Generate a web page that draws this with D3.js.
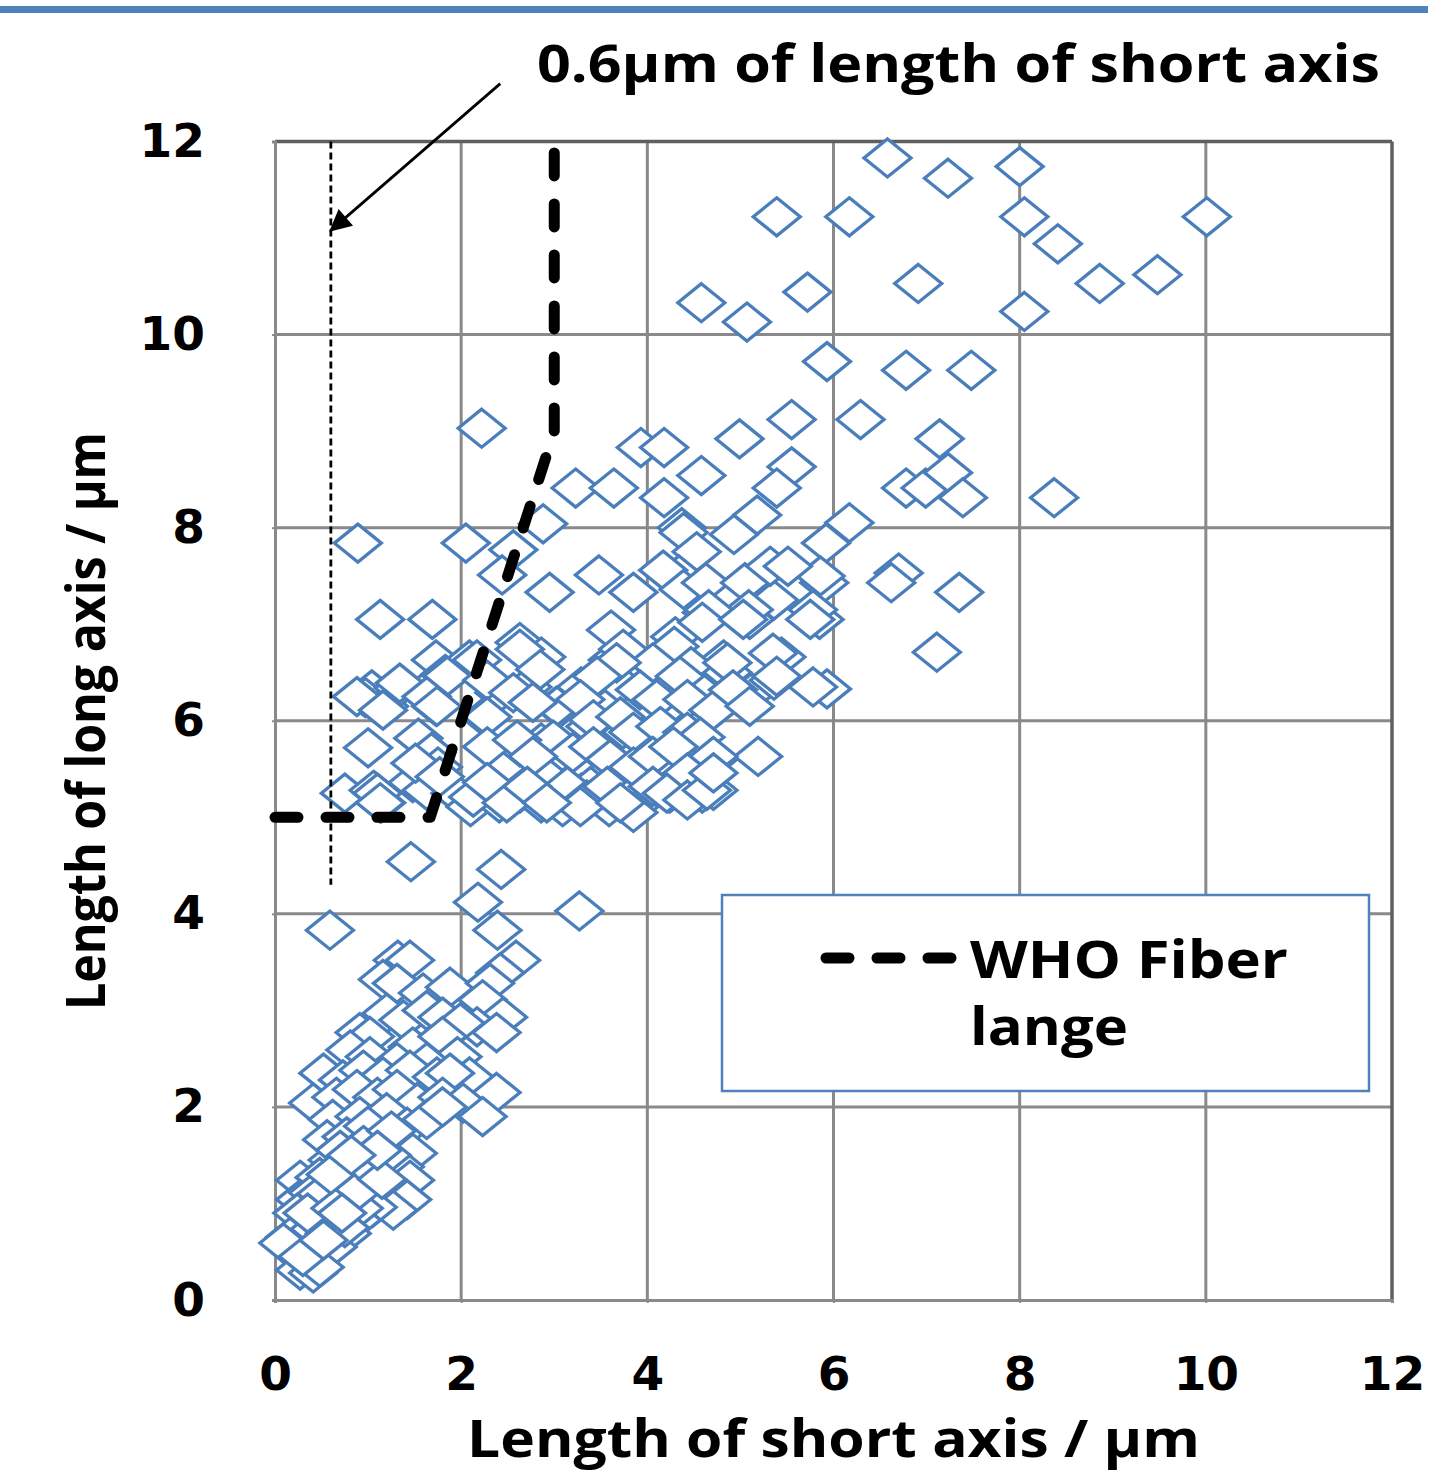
<!DOCTYPE html>
<html><head><meta charset="utf-8">
<script src="https://cdn.jsdelivr.net/npm/d3@7"></script>
<style>body{margin:0;background:#fff}</style>
</head><body>
<svg id="c" width="1434" height="1477"></svg>
<script>
const xTicks=[0,2,4,6,8,10,12];
const yTicks=[0,2,4,6,8,10,12];
const annotation="0.6µm of length of short axis";
const xTitle="Length of short axis / µm";
const yTitle="Length of long axis / µm";
const legendLabel=["WHO Fiber","lange"];
const whoLine=[[0,5],[1.667,5],[3,9],[3,12]];
const refLine=[[0.6,12],[0.6,4.3]];
const arrowLine=[[2.42,12.6],[0.6,11.08]];
const fiberPoints=[
[6.58,11.83],[7.23,11.62],[8.0,11.74],[6.17,11.22],[8.05,11.22],[8.41,10.94],[8.86,10.53],[9.48,10.62],[10.01,11.22],[6.91,10.53],[8.05,10.24],[5.93,9.72],[6.78,9.63],[7.48,9.63],[6.29,9.12],[7.14,8.92],[6.78,8.41],[6.99,8.41],[7.23,8.57],[7.39,8.31],[8.37,8.31],[6.17,8.05],
[5.92,7.84],[6.70,7.53],[6.62,7.43],[7.35,7.33],[7.11,6.71],[5.93,6.33],[5.90,7.43],[5.85,7.05],
[5.39,11.22],[4.58,10.33],[5.07,10.13],[5.72,10.44],[2.22,9.03],[3.93,8.83],[4.18,8.83],[4.99,8.92],[5.55,9.12],[5.55,8.63],[5.39,8.41],[4.58,8.54],[4.18,8.31],[3.23,8.41],[3.64,8.41],[5.18,8.13],[2.88,8.04],[4.37,8.0],[4.93,7.93],
[0.89,7.84],[2.05,7.84],[2.56,7.77],[2.44,7.51],[2.95,7.33],[3.48,7.51],[3.85,7.33],[3.61,6.94],[4.3,6.87],[4.39,7.95],[4.53,7.75],[4.34,7.51],[4.64,7.12],[5.1,7.05],[5.36,7.25],[5.86,7.5],[4.17,7.56],[4.39,7.36],[4.63,7.43],[5.05,7.43],[5.32,7.6],[5.51,7.6],[5.78,7.15],[5.09,7.15],[4.66,7.15],[4.59,7.02],[4.82,6.63],[5.44,6.66],[1.13,7.05],[1.69,7.05],
[1.73,6.63],[1.04,6.32],[0.97,6.24],[1.17,6.15],[1.33,6.34],[1.63,6.32],[1.73,6.15],[1.83,6.48],[2.09,6.63],[2.25,6.04],[2.41,6.29],[2.63,6.81],[2.86,6.66],[2.71,6.35],[3.02,6.15],[3.29,6.35],[3.48,6.46],[3.63,6.63],[3.75,6.35],[3.93,6.15],[4.09,6.42],[4.29,6.77],[4.47,6.56],[4.59,6.29],[4.86,6.5],[5.12,6.29],[5.36,6.42],[5.78,6.35],
[1.0,5.72],[1.54,5.82],[1.68,5.67],[1.75,5.52],[2.63,5.73],[2.86,5.77],[3.02,5.63],[3.24,5.88],[3.39,5.94],[3.63,5.73],[3.78,5.88],[3.93,5.67],[4.09,5.88],[4.24,5.73],[4.39,5.88],[4.51,5.67],[4.71,5.6],[4.17,5.52],[5.19,5.63],
[0.75,5.25],[1.06,5.28],[1.14,5.15],[1.48,5.36],[1.63,5.28],[1.51,5.56],[1.94,5.25],[2.1,5.11],[2.32,5.32],[2.41,5.15],[2.63,5.25],[2.78,5.39],[2.86,5.15],[3.02,5.28],[3.09,5.11],[3.29,5.25],[3.39,5.32],[3.59,5.11],[3.75,5.25],[3.86,5.11],[4.02,5.32],[4.24,5.25],[4.47,5.36],[4.59,5.25],[4.71,5.28],[4.29,5.52],
[1.46,4.54],[2.43,4.46],
[3.74,6.74],[4.86,6.6],[5.03,7.05],[5.35,6.7],[5.39,6.46],[5.75,7.05],[4.06,6.6],[4.35,6.46],[3.67,6.6],[3.46,6.46],[3.92,6.32],[4.1,6.22],[4.43,6.22],[4.71,6.11],[4.92,6.32],[5.1,6.15],[3.03,6.15],[3.28,6.22],[3.42,6.01],[3.71,6.04],[3.85,5.88],[4.14,5.94],[4.43,5.88],[4.57,5.83],[4.71,5.63],[2.99,5.8],[3.2,5.67],[3.42,5.73],[3.6,5.6],[3.85,5.52],[4.06,5.63],[4.28,5.73],[4.43,5.46],[2.92,5.42],[3.14,5.32],[3.35,5.18],[3.57,5.32],[3.78,5.18],[3.85,5.05],[4.06,5.32],[4.21,5.25],[4.43,5.18],[4.64,5.28],[4.71,5.46],[3.28,5.11],[3.71,5.15],
[0.88,6.25],[1.16,6.11],[1.34,6.39],[1.85,6.46],[1.63,6.25],[1.74,6.15],[2.17,6.63],[2.28,6.42],[2.63,6.74],[2.85,6.53],[2.56,6.29],[2.77,6.19],[2.28,6.04],[2.28,5.73],[2.6,5.8],[2.77,5.63],[1.1,5.25],[1.13,5.15],[1.77,5.42],[2.13,5.21],[2.28,5.36],[2.49,5.15],[2.71,5.32],[2.92,5.15],
[0.59,3.83],[2.18,4.12],[2.39,3.83],[2.59,3.52],[3.27,4.03],
[1.32,3.52],[1.45,3.52],[1.16,3.32],[1.31,3.28],[1.59,3.18],[1.88,3.24],[2.42,3.39],[2.31,3.28],[2.23,3.11],[2.45,2.93],[2.17,2.83],[2.38,2.77],[1.2,2.97],[1.38,2.9],[1.63,3.0],[1.8,2.93],[1.99,2.87],[0.91,2.77],[1.02,2.73],[1.48,2.62],[1.8,2.73],[1.96,2.52],[0.81,2.59],[1.02,2.52],[1.31,2.46],[1.63,2.46],[2.09,2.31],[2.38,2.15],[0.52,2.35],[0.73,2.28],[0.95,2.38],[1.16,2.31],[1.45,2.38],[1.74,2.31],[1.88,2.35],[0.41,2.04],[0.66,2.1],[0.88,2.18],[1.1,2.1],[1.31,2.18],[1.53,2.04],[1.8,2.1],[2.02,2.04],[2.23,1.9],
[0.62,1.87],[0.91,1.9],[1.2,1.94],[1.42,1.79],[1.63,1.87],[1.8,2.0],[0.56,1.66],[0.77,1.69],[1.02,1.66],[1.27,1.63],[1.48,1.52],[0.62,1.45],[0.91,1.48],[1.13,1.42],[1.34,1.38],[1.45,1.24],[0.27,1.24],[0.48,1.27],[0.7,1.24],[0.91,1.21],[1.13,1.14],[1.42,1.04],[1.27,0.93],[0.27,1.04],[0.41,1.11],[0.62,1.04],[0.84,1.0],[1.05,0.96],[0.24,0.9],[0.45,0.86],[0.66,0.86],[0.88,0.83],[0.16,0.65],[0.37,0.69],[0.59,0.69],[0.77,0.69],[0.2,0.52],[0.41,0.52],[0.62,0.55],[0.27,0.31],[0.41,0.28],[0.48,0.34],[0.09,0.59],[0.3,0.45],
[0.8,1.35],[1.0,1.3],[0.7,1.05],[0.9,0.95],[0.55,0.8],[0.75,0.75],[1.2,1.5],[1.0,1.8],[0.7,1.55],[0.5,1.1],[0.35,0.9],
[0.85,1.1],[0.65,0.95],[1.15,1.25],[0.95,1.6],[1.25,1.75],[0.52,0.62],[0.72,0.9],[1.1,1.55],[0.6,1.3],[0.82,1.5]
];

const svg=d3.select("#c");
const x=d3.scaleLinear().domain([0,12]).range([275,1392]);
const y=d3.scaleLinear().domain([0,12]).range([1300,141.5]);
const blue="#4a7ebb", grid="#898989";

svg.append("rect").attr("x",0).attr("y",6).attr("width",1428).attr("height",7).attr("fill","#4f81bd");

const gg=svg.append("g");
gg.selectAll(".vg").data(xTicks.filter(d=>d>0&&d<12)).join("line")
  .attr("x1",d=>x(d)).attr("x2",d=>x(d)).attr("y1",y(12)).attr("y2",y(0))
  .attr("stroke",grid).attr("stroke-width",3);
gg.selectAll(".hg").data(yTicks.filter(d=>d>0&&d<12)).join("line")
  .attr("y1",d=>y(d)).attr("y2",d=>y(d)).attr("x1",x(0)).attr("x2",x(12))
  .attr("stroke",grid).attr("stroke-width",3);
gg.append("line").attr("x1",x(0)).attr("x2",x(12)).attr("y1",y(12)).attr("y2",y(12)).attr("stroke","#5f5f5f").attr("stroke-width",3.5);
gg.append("line").attr("x1",x(12)).attr("x2",x(12)).attr("y1",y(12)).attr("y2",y(0)).attr("stroke","#5f5f5f").attr("stroke-width",3.5);

const xAxis=svg.append("g").attr("transform",`translate(0,${y(0)})`)
  .call(d3.axisBottom(x).tickValues(xTicks).tickSize(3).tickPadding(54).tickFormat(d3.format("d")));
const yAxis=svg.append("g").attr("transform",`translate(${x(0)},0)`)
  .call(d3.axisLeft(y).tickValues(yTicks).tickSize(3).tickPadding(68).tickFormat(d3.format("d")));
[xAxis,yAxis].forEach(a=>{
  a.select(".domain").attr("stroke",grid).attr("stroke-width",3);
  a.selectAll(".tick line").attr("stroke",grid).attr("stroke-width",2);
  a.selectAll(".tick text").attr("fill","#000").style("font-family","'DejaVu Sans'").style("font-weight","bold").style("font-size","47px");
});
yAxis.selectAll(".tick text").attr("x",-70);

const dia="M0,-19L23.5,0L0,19L-23.5,0Z";
svg.append("g").selectAll("path").data(fiberPoints).join("path")
  .attr("d",dia).attr("transform",d=>`translate(${x(d[0])},${y(d[1])})`)
  .attr("fill","#fff").attr("stroke",blue).attr("stroke-width",3.3);

const line=d3.line().x(d=>x(d[0])).y(d=>y(d[1]));
svg.append("path").attr("d",line(refLine)).attr("fill","none").attr("stroke","#000")
  .attr("stroke-width",2.8).attr("stroke-dasharray","7 4");

svg.append("path").attr("d",line(whoLine)).attr("fill","none").attr("stroke","#000")
  .attr("stroke-width",11).attr("stroke-linecap","round").attr("stroke-linejoin","round").attr("stroke-dasharray","23 28");

svg.append("defs").append("marker").attr("id","ah").attr("viewBox","0 0 10 10").attr("refX",9).attr("refY",5)
  .attr("markerUnits","userSpaceOnUse").attr("orient","auto")
  .attr("markerWidth",28).attr("markerHeight",22)
  .append("path").attr("d","M0,0L10,5L0,10Z").attr("fill","#000");
svg.append("path").attr("d",line(arrowLine)).attr("stroke","#000").attr("stroke-width",2.8).attr("fill","none").attr("marker-end","url(#ah)");

const tf="'Open Sans', sans-serif";
svg.append("text").attr("x",537).attr("y",82).text(annotation)
  .style("font-family",tf).style("font-weight","bold").style("font-size","52px")
  .attr("textLength",843).attr("lengthAdjust","spacingAndGlyphs");

svg.append("text").attr("x",467).attr("y",1457).text(xTitle)
  .style("font-family",tf).style("font-weight","bold").style("font-size","52px")
  .attr("textLength",733).attr("lengthAdjust","spacingAndGlyphs");
svg.append("text").attr("transform","translate(105,1010) rotate(-90)").text(yTitle)
  .style("font-family",tf).style("font-weight","bold").style("font-size","53px")
  .attr("textLength",578).attr("lengthAdjust","spacingAndGlyphs");

const lg=svg.append("g");
lg.append("rect").attr("x",722).attr("y",895).attr("width",647).attr("height",196)
  .attr("fill","#fff").attr("stroke","#4f81bd").attr("stroke-width",2.5);
lg.append("line").attr("x1",826).attr("x2",956).attr("y1",958).attr("y2",958)
  .attr("stroke","#000").attr("stroke-width",11).attr("stroke-linecap","round").attr("stroke-dasharray","23 28");
lg.append("text").attr("x",970).attr("y",978).text(legendLabel[0])
  .style("font-family",tf).style("font-weight","bold").style("font-size","52px")
  .attr("textLength",318).attr("lengthAdjust","spacingAndGlyphs");
lg.append("text").attr("x",970).attr("y",1045).text(legendLabel[1])
  .style("font-family",tf).style("font-weight","bold").style("font-size","52px")
  .attr("textLength",158).attr("lengthAdjust","spacingAndGlyphs");
</script>
</body></html>
